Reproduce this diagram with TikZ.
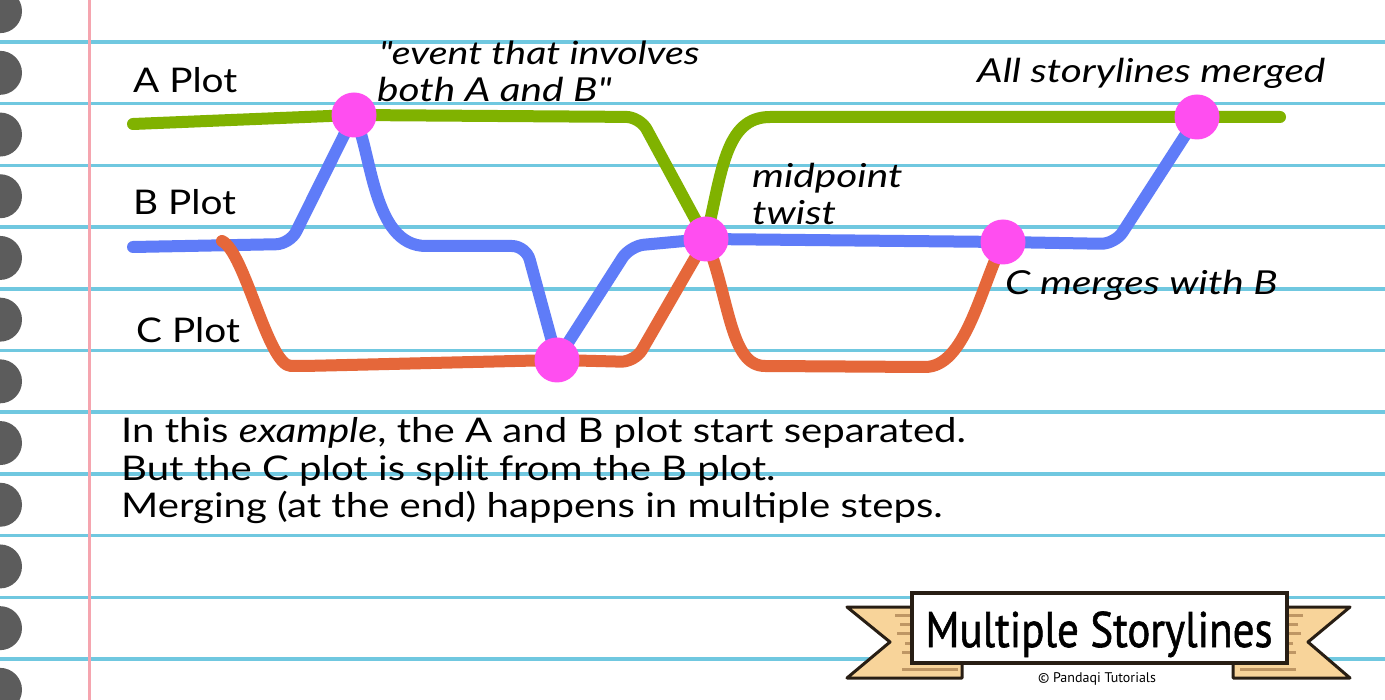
\documentclass[tikz,border=0pt]{standalone}
\usepackage{fontspec}
\setmainfont{Lato}
\newfontfamily\labelfont{Lato}[FakeStretch=1.14]
\newfontfamily\parafont{Lato}[FakeStretch=1.18]
\newfontfamily\ilabelfont{Lato}[FakeStretch=1.23]
\newfontfamily\titlefont{PT Sans}[FakeBold=1.2]
\newfontfamily\creditfont{PT Sans}
\definecolor{lineblue}{RGB}{112,200,224}
\definecolor{marginpink}{RGB}{245,165,175}
\definecolor{holegray}{RGB}{92,92,92}
\definecolor{agreen}{RGB}{128,178,0}
\definecolor{bblue}{RGB}{95,124,248}
\definecolor{corange}{RGB}{229,103,58}
\definecolor{eventpink}{RGB}{255,78,240}
\definecolor{ribbonfill}{RGB}{248,212,154}
\definecolor{ribbonline}{RGB}{190,150,100}
\definecolor{ribbonedge}{RGB}{40,30,20}
\tikzset{
  paperline/.style={line width=3.5pt, color=lineblue},
  story/.style={line width=12pt, line cap=round, line join=round},
  event/.style={circle, fill=eventpink, minimum size=45pt, inner sep=0pt},
  lbl/.style={anchor=base west, inner sep=0pt, font=\labelfont\fontsize{34}{40}\selectfont},
  para/.style={anchor=base west, inner sep=0pt, font=\parafont\fontsize{34}{40}\selectfont},
  ilbl/.style={anchor=base west, inner sep=0pt, font=\ilabelfont\fontsize{33}{40}\selectfont\itshape},
  ribbon/.style={fill=ribbonfill, draw=ribbonedge, line width=3pt, line join=round},
  stripe/.style={line width=3pt, color=ribbonline},
}
\begin{document}
\begin{tikzpicture}[x=1pt,y=-1pt]
\useasboundingbox (0,0) rectangle (1385,700);
\fill[white] (0,0) rectangle (1385,700);
% ruled lines
\foreach \k in {0,...,10} {
  \draw[paperline] (0,42+61.7*\k) -- (1385,42+61.7*\k);
}
% margin
\draw[line width=3pt, marginpink] (89,0) -- (89,700);
% holes
\foreach \k in {0,...,11} {
  \fill[holegray] (0,11.15+61.7*\k) circle (22);
}
% coordinates
\coordinate (p1) at (354,115);
\coordinate (p2) at (557,360);
\coordinate (p3) at (706,239);
\coordinate (p4) at (1003,242);
\coordinate (p5) at (1197,117);
\coordinate (aStart) at (133,124);
\coordinate (aBend) at (640,117);
\coordinate (aRise) at (770,117);
\coordinate (aEnd) at (1280,117);
\coordinate (bStart) at (133,247);
\coordinate (bRise) at (290,244);
\coordinate (bFlat) at (440,246);
\coordinate (bDrop) at (526,246);
\coordinate (bUp) at (630,246);
\coordinate (bLast) at (1115,244);
\coordinate (cSplit) at (222,241);
\coordinate (cLow) at (305,366);
\coordinate (cBend) at (635,362);
\coordinate (cLow2) at (765,366);
\coordinate (cUp) at (925,367);
% A storyline
\draw[story, agreen, rounded corners=14pt] (aStart) -- (p1) -- (aBend) -- (p3);
\draw[story, agreen] (p3) .. controls (722,172) and (725,117) .. (aRise) -- (aEnd);
% B storyline
\draw[story, bblue, rounded corners=14pt] (bStart) -- (bRise) -- (p1);
\draw[story, bblue, rounded corners=14pt] (p1) .. controls (372,150) and (372,246) .. (bFlat) -- (bDrop) -- (p2) -- (bUp) -- (p3) -- (p4) -- (bLast) -- (p5);
% C storyline
\draw[story, corange, rounded corners=14pt] (cSplit) .. controls (245,252) and (268,366) .. (cLow) -- (p2) -- (cBend) -- (p3);
\draw[story, corange] (p3) .. controls (730,300) and (730,366) .. (cLow2) -- (cUp) .. controls (965,367) and (980,290) .. (p4);
% events
\node[event] (e1) at (p1) {};
\node[event] (e2) at (p2) {};
\node[event] (e3) at (p3) {};
\node[event] (e4) at (p4) {};
\node[event] (e5) at (p5) {};
% labels
\node[lbl] (la) at (133,93) {A Plot};
\node[lbl] (lb) at (133,215) {B Plot};
\node[lbl] (lc) at (136,343) {C Plot};
\node[ilbl, font=\ilabelfont\fontsize{32}{40}\selectfont\itshape] (t1) at (379,65) {"event that involves};
\node[ilbl] (t2) at (377,102) {both A and B"};
\node[ilbl] (t3) at (977,83) {All storylines merged};
\node[ilbl] (t4) at (752,188) {midpoint};
\node[ilbl] (t5) at (752,225) {twist};
\node[ilbl] (t6) at (1005,295) {C merges with B};
\node[para] (p1t) at (121,443) {In this \textit{example}, the A and B plot start separated.};
\node[para] (p2t) at (121,481) {But the C plot is split from the B plot.};
\node[para] (p3t) at (121,518) {Merging (at the end) happens in multiple steps.};
% banner
\draw[ribbon] (847,607) -- (962,607) -- (962,678) -- (847,678) -- (890,642) -- cycle;
\draw[ribbon] (1350,607) -- (1233,607) -- (1233,678) -- (1350,678) -- (1308,642) -- cycle;
\foreach \y/\s in {615/895,624/900,633/897,643/905,652/902} {
  \draw[stripe] (\s,\y) -- (930,\y);
  \draw[stripe] (2198-\s,\y) -- (1268,\y);
}
\draw[stripe] (902,669) -- (958,669);
\draw[stripe] (1296,669) -- (1240,669);
\node[draw=ribbonedge, line width=3.5pt, fill=white, minimum width=375pt, minimum height=70pt, inner sep=0pt] (banner) at (1099.5,628) {};
\node[anchor=base, inner sep=0pt, font=\titlefont\fontsize{50}{56}\selectfont] (title) at (1099,647) {\scalebox{0.86}[1]{Multiple Storylines}};
\node[anchor=base, inner sep=0pt, font=\creditfont\fontsize{14}{16}\selectfont] (credit) at (1097,682) {© Pandaqi Tutorials};
\end{tikzpicture}
\end{document}
